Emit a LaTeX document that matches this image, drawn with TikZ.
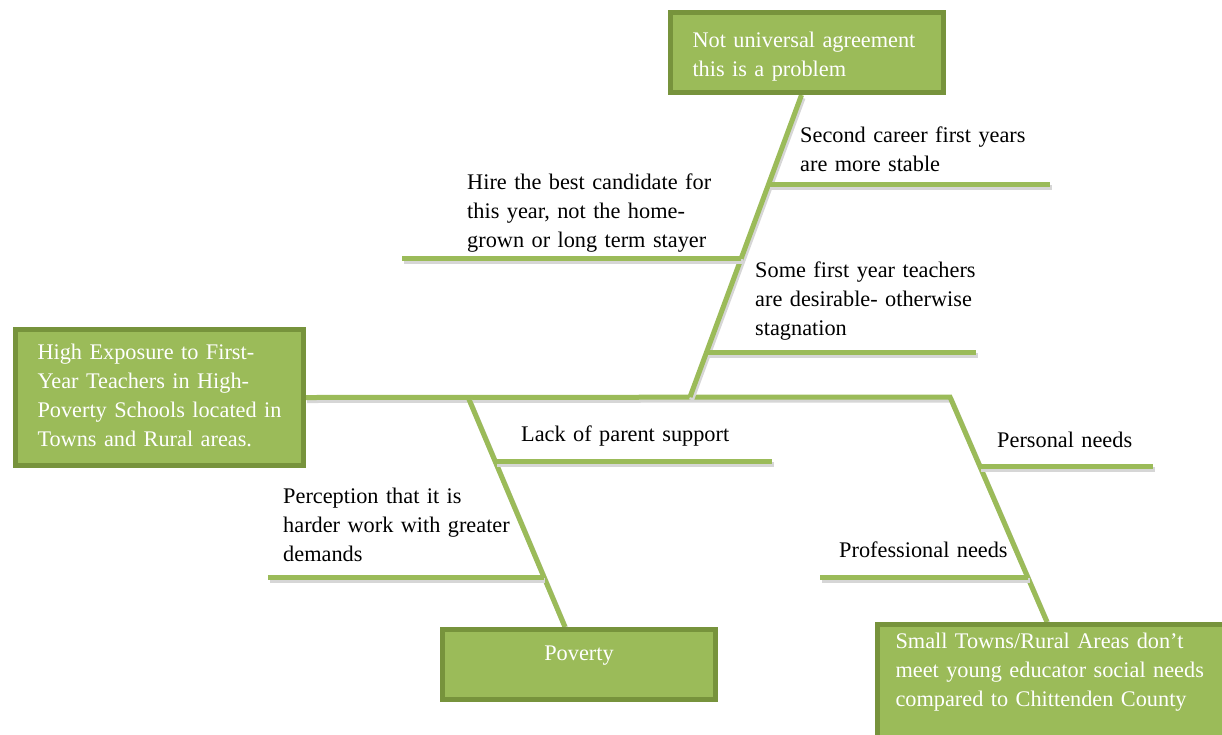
\documentclass[tikz,border=0pt]{standalone}
\usepackage{fontspec}
\setmainfont{Liberation Serif}
\usetikzlibrary{backgrounds}
\definecolor{boxfill}{HTML}{9BBB59}
\definecolor{boxedge}{HTML}{77933C}
\begin{document}
\begin{tikzpicture}[x=1pt,y=-1pt,
    every node/.style={font=\fontsize{22.3}{29}\selectfont},
    box/.style={draw=boxedge,line width=5pt,fill=boxfill,text=white,inner ysep=0pt},
    cause/.style={anchor=base west,inner sep=0pt,align=left,text width=300pt},
    bone/.style={draw=boxfill,line width=5pt,
      preaction={draw=black!16,line width=5pt,transform canvas={xshift=1.5pt,yshift=-3pt}}}]
    \useasboundingbox (0,0) rectangle (1222,734);
    \clip (0,0) rectangle (1222,734);
    %%% boxes
    \node[box,anchor=base west,align=left,text width=243pt,inner xsep=22.5pt,
      text height=29.5pt,text depth=106.5pt] (effect) at (12.5,359)
      {High Exposure to First-\\Year Teachers in High-\\\mbox{Poverty Schools located in}\\Towns and Rural areas.};
    \node[box,anchor=base west,align=left,text width=228pt,inner xsep=22.5pt,
      text height=34.5pt,text depth=45.5pt] (notuni) at (667.5,47)
      {Not universal agreement\\this is a problem};
    \node[box,anchor=base,align=center,minimum width=273pt,inner xsep=0pt,
      text height=30.5pt,text depth=39.5pt] (poverty) at (579,660) {Poverty};
    \node[box,anchor=base west,align=left,text width=328.5pt,inner xsep=18.5pt,
      text height=23.5pt,text depth=112pt] (rural) at (874.5,648)
      {Small Towns/Rural Areas don't\\meet young educator social needs\\compared to Chittenden County};
    %%% causes
    \node[cause] (second) at (800,142) {Second career first years\\are more stable};
    \node[cause] (hire) at (467,189) {Hire the best candidate for\\this year, not the home-\\grown or long term stayer};
    \node[cause] (stagnation) at (755,277) {Some first year teachers\\are desirable- otherwise\\stagnation};
    \node[cause] (parents) at (521,441) {Lack of parent support};
    \node[cause] (demands) at (283,503) {Perception that it is\\harder work with greater\\demands};
    \node[cause] (personal) at (997,447) {Personal needs};
    \node[cause] (professional) at (839,557) {Professional needs};
    %%% spine and bones
    \begin{scope}[on background layer]
    \coordinate (bend) at (950,397);
    \coordinate (tail) at ([xshift=172.5pt]rural.north west);
    \coordinate (up) at (690,397);
    \coordinate (down) at (468,397);
    \draw[bone] (effect.east) -- (bend) -- (tail)
      coordinate[pos=0.308] (b6) coordinate[pos=0.804] (b7);
    \draw[bone] (up) -- ([xshift=-5pt]notuni.south)
      coordinate[pos=0.703] (b1) coordinate[pos=0.460] (b2) coordinate[pos=0.148] (b3);
    \draw[bone] (down) -- ([xshift=-14pt]poverty.north)
      coordinate[pos=0.280] (b4) coordinate[pos=0.783] (b5);
    \foreach \j/\e in {b1/1050, b2/402, b3/976, b4/772, b5/268, b6/1153, b7/820}
    \draw[bone] (\j) -- (\j -| \e,0);
    \end{scope}
\end{tikzpicture}
\end{document}
